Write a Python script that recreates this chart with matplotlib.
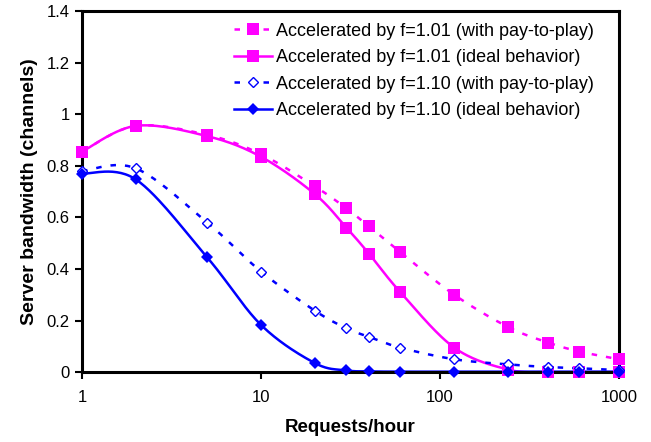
import numpy as np
import matplotlib
matplotlib.use("Agg")
import matplotlib.pyplot as plt

requests = [1, 2, 5, 10, 20, 30, 40, 60, 120, 240, 400, 600, 1000]
f101_pay = [0.855, 0.955, 0.92, 0.845, 0.72, 0.635, 0.565, 0.465, 0.30, 0.175, 0.115, 0.08, 0.05]
f101_ideal = [0.855, 0.955, 0.915, 0.835, 0.69, 0.56, 0.46, 0.31, 0.095, 0.01, 0.0, 0.0, 0.0]
f110_pay = [0.78, 0.79, 0.58, 0.39, 0.238, 0.17, 0.137, 0.095, 0.05, 0.03, 0.02, 0.015, 0.008]
f110_ideal = [0.77, 0.747, 0.445, 0.183, 0.035, 0.007, 0.003, 0.002, 0.002, 0.002, 0.002, 0.002, 0.002]

labels = ["Accelerated by f=1.01 (with pay-to-play)",
          "Accelerated by f=1.01 (ideal behavior)",
          "Accelerated by f=1.10 (with pay-to-play)",
          "Accelerated by f=1.10 (ideal behavior)"]
xticks = [1, 10, 100, 1000]
yticks = [0, 0.2, 0.4, 0.6, 0.8, 1.0, 1.2, 1.4]
ytick_labels = ["0", "0.2", "0.4", "0.6", "0.8", "1", "1.2", "1.4"]

MAG = "#FF00FF"
BLU = "#0000FF"

def smooth(xs, ys, n=30):
    # Excel-like smoothing: Catmull-Rom Bezier in (log10 x, y)
    px = np.log10(np.asarray(xs, float))
    py = np.asarray(ys, float)
    P = np.column_stack([px, py])
    m = len(P)
    out = []
    for i in range(m - 1):
        p0 = P[i - 1] if i > 0 else P[i]
        p1 = P[i]
        p2 = P[i + 1]
        p3 = P[i + 2] if i + 2 < m else P[i + 1]
        c1 = p1 + (p2 - p0) / 6.0
        c2 = p2 - (p3 - p1) / 6.0
        t = np.linspace(0, 1, n, endpoint=(i == m - 2))[:, None]
        b = ((1 - t) ** 3) * p1 + 3 * ((1 - t) ** 2) * t * c1 + 3 * (1 - t) * t ** 2 * c2 + t ** 3 * p2
        out.append(b)
    B = np.vstack(out)
    return 10 ** B[:, 0], B[:, 1]

plt.rcParams['font.family'] = ['Liberation Sans', 'DejaVu Sans']
fig = plt.figure(figsize=(6.51, 4.42), dpi=100)
ax = fig.add_axes([0.126, 0.158, 0.825, 0.817])

series = [
    (f101_pay, MAG, (0, (2.2, 3.6)), 's', MAG, 9.3, 0),
    (f101_ideal, MAG, '-', 's', MAG, 9.3, 0),
    (f110_pay, BLU, (0, (2.2, 3.6)), 'D', 'white', 5.2, 1.0),
    (f110_ideal, BLU, '-', 'D', BLU, 6.5, 0),
]
handles = []
for (ys, col, ls, mk, fc, ms, mew), lab in zip(series, labels):
    sx, sy = smooth(requests, ys)
    ax.plot(sx, sy, color=col, lw=1.8, ls=ls, solid_capstyle='butt', dash_capstyle='butt', zorder=2)
    ax.plot(requests, ys, ls='none', marker=mk, ms=ms, mfc=fc, mec=col, mew=mew, zorder=3, clip_on=False)
    h, = ax.plot([], [], color=col, lw=1.8, ls=ls, marker=mk, ms=ms, mfc=fc, mec=col, mew=mew, label=lab)
    handles.append(h)

ax.set_xscale('log')
ax.set_xlim(1, 1000)
ax.set_ylim(0, 1.4)
ax.set_xticks(xticks)
ax.set_xticklabels([str(v) for v in xticks])
ax.xaxis.set_minor_locator(matplotlib.ticker.NullLocator())
ax.set_yticks(yticks)
ax.set_yticklabels(ytick_labels)
ax.tick_params(axis='both', direction='out', length=5, width=1.5, labelsize=12, pad=4)
ax.tick_params(axis='x', pad=8)
for s in ax.spines.values():
    s.set_linewidth(2.2)
    s.set_color('black')

ax.set_xlabel("Requests/hour", fontsize=13.5, fontweight='bold', labelpad=10)
ax.set_ylabel("Server bandwidth (channels)", fontsize=14, fontweight='bold', labelpad=6)

leg = ax.legend(handles=handles, loc='upper right', frameon=False, fontsize=13,
                handlelength=2.1, handletextpad=0.22, labelspacing=0.52,
                borderaxespad=0.25, bbox_to_anchor=(0.975, 1.0))

fig.savefig("out.png", dpi=100)
